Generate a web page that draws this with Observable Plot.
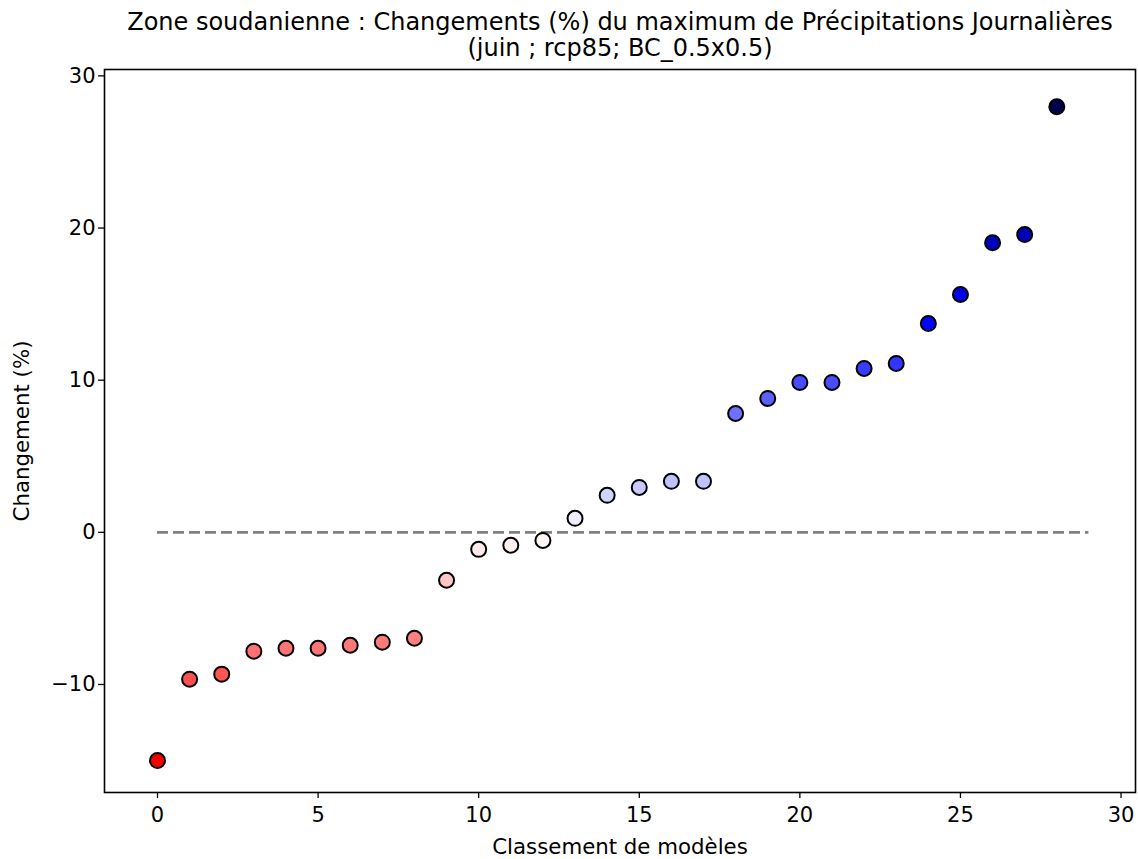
<!DOCTYPE html>
<html>
<head>
<meta charset="utf-8">
<script src="https://cdn.jsdelivr.net/npm/d3@7"></script>
<script src="https://cdn.jsdelivr.net/npm/@observablehq/plot@0.6"></script>
<style>
  html, body { margin: 0; padding: 0; background: #fff; }
  svg { font-family: "DejaVu Sans", sans-serif; }
</style>
</head>
<body>
<div id="chart"></div>
<script>
const titleLines = [
  "Zone soudanienne : Changements (%) du maximum de Précipitations Journalières",
  "(juin ; rcp85; BC_0.5x0.5)"
];
const xLabel = "Classement de modèles";
const yLabel = "Changement (%)";
const xTicks = [0, 5, 10, 15, 20, 25, 30];
const yTicks = [-10, 0, 10, 20, 30];
const ranks = d3.range(29);
const changes = [
  -15.0, -9.65, -9.32, -7.81, -7.62, -7.62, -7.42, -7.22, -6.96, -3.15,
  -1.12, -0.85, -0.53, 0.92, 2.43, 2.95, 3.35, 3.35, 7.81, 8.80,
  9.85, 9.85, 10.77, 11.10, 13.72, 15.63, 19.04, 19.57, 27.97
];
const zeroLine = [{x1: 0, x2: 29, y: 0}];

const data = ranks.map((r, i) => ({rank: r, value: changes[i]}));
const vmax = d3.max(changes, Math.abs);

const chart = Plot.plot({
  width: 1138,
  height: 859,
  marginLeft: 104,
  marginRight: 3,
  marginTop: 69,
  marginBottom: 67,
  style: {fontFamily: "DejaVu Sans, sans-serif", fontSize: "21px", color: "black", background: "white"},
  x: {domain: [-1.65, 30.45], label: null},
  y: {domain: [-17.1, 30.42], label: null},
  color: {
    type: "linear",
    domain: [-vmax, -vmax / 2, 0, vmax / 2, vmax],
    range: ["#800000", "#ff0000", "#ffffff", "#0000ff", "#00004d"],
    interpolate: "rgb"
  },
  marks: [
    Plot.ruleY(zeroLine, {x1: "x1", x2: "x2", y: "y", stroke: "#808080", strokeWidth: 2.6, strokeDasharray: "11,5"}),
    Plot.dot(data, {x: "rank", y: "value", fill: "value", stroke: "black", strokeWidth: 2, r: 7.5}),
    Plot.frame({stroke: "black", strokeWidth: 1.6}),
    Plot.axisX({ticks: xTicks, tickSize: 6, tickPadding: 9, fontSize: 21, label: null, strokeWidth: 1.3}),
    Plot.axisY({ticks: yTicks, tickSize: 6, tickPadding: 3, fontSize: 21, label: null, strokeWidth: 1.3}),
    Plot.text([titleLines[0]], {frameAnchor: "top", lineAnchor: "bottom", dy: -40, fontSize: 24, fill: "black"}),
    Plot.text([titleLines[1]], {frameAnchor: "top", lineAnchor: "bottom", dy: -14, fontSize: 24, fill: "black"}),
    Plot.text([xLabel], {frameAnchor: "bottom", lineAnchor: "bottom", dy: 61, fontSize: 21.3, fill: "black"}),
    Plot.text([yLabel], {frameAnchor: "left", textAnchor: "middle", rotate: -90, dx: -82, fontSize: 21.3, fill: "black"})
  ]
});
document.getElementById("chart").appendChild(chart);
</script>
</body>
</html>
